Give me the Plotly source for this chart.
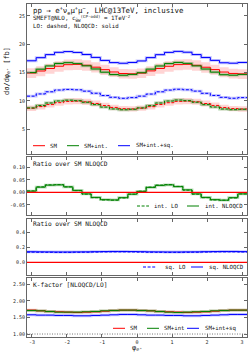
import numpy as np
import plotly.graph_objects as go

# ---------------- data ----------------
n_bins = 24
edges = np.linspace(-np.pi, np.pi, n_bins + 1)

sm_nlo = [14.92, 15.26, 15.70, 16.11, 16.38, 16.44, 16.28, 15.94, 15.50, 15.09, 14.82, 14.76,
          14.90, 15.28, 15.71, 16.10, 16.39, 16.45, 16.27, 15.93, 15.51, 15.08, 14.83, 14.75]
sm_int_nlo = [14.99, 15.58, 16.16, 16.59, 16.74, 16.57, 16.18, 15.62, 15.05, 14.64, 14.51, 14.66,
              14.96, 15.59, 16.15, 16.58, 16.77, 16.61, 16.17, 15.61, 15.06, 14.61, 14.52, 14.66]
sm_int_sq_nlo = [17.07, 17.62, 18.16, 18.56, 18.70, 18.54, 18.18, 17.66, 17.13, 16.75, 16.63, 16.77,
                 17.04, 17.63, 18.15, 18.55, 18.73, 18.58, 18.17, 17.65, 17.14, 16.72, 16.64, 16.77]
sm_lo = [8.69, 8.97, 9.33, 9.67, 9.89, 9.95, 9.81, 9.53, 9.17, 8.83, 8.61, 8.56,
         8.70, 8.96, 9.34, 9.66, 9.90, 9.94, 9.82, 9.52, 9.18, 8.82, 8.62, 8.55]
sm_int_lo = [8.74, 9.17, 9.61, 9.97, 10.11, 10.02, 9.74, 9.33, 8.89, 8.56, 8.42, 8.50,
             8.74, 9.15, 9.61, 9.96, 10.14, 10.03, 9.75, 9.32, 8.90, 8.55, 8.43, 8.50]
sm_int_sq_lo = [10.82, 11.21, 11.59, 11.90, 12.01, 11.94, 11.70, 11.33, 10.93, 10.62, 10.44, 10.56,
                10.82, 11.19, 11.59, 11.89, 12.04, 11.95, 11.71, 11.32, 10.94, 10.61, 10.45, 10.56]
sm_nlo_scale_unc = (0.06, 0.055)   # relative (down, up)
sm_lo_scale_unc = (0.055, 0.055)

ratio_int_lo = [0.006, 0.022, 0.030, 0.031, 0.022, 0.007, -0.007, -0.021, -0.030, -0.031, -0.022, -0.007,
                0.005, 0.021, 0.029, 0.031, 0.024, 0.009, -0.007, -0.021, -0.030, -0.031, -0.022, -0.006]
ratio_int_nlo = [0.005, 0.021, 0.029, 0.030, 0.022, 0.008, -0.006, -0.020, -0.029, -0.030, -0.021, -0.007,
                 0.004, 0.020, 0.028, 0.030, 0.023, 0.010, -0.006, -0.020, -0.029, -0.031, -0.021, -0.006]
ratio_sq_lo = [0.137, 0.136, 0.135, 0.134, 0.134, 0.135, 0.136, 0.138, 0.140, 0.141, 0.141, 0.140,
               0.138, 0.136, 0.135, 0.134, 0.134, 0.135, 0.136, 0.138, 0.140, 0.141, 0.141, 0.139]
ratio_sq_nlo = [0.142, 0.141, 0.140, 0.139, 0.139, 0.140, 0.141, 0.143, 0.145, 0.146, 0.146, 0.145,
                0.143, 0.141, 0.140, 0.139, 0.139, 0.140, 0.141, 0.143, 0.145, 0.146, 0.146, 0.144]

k_sm = [1.72, 1.70, 1.68, 1.67, 1.66, 1.65, 1.66, 1.67, 1.69, 1.71, 1.72, 1.72,
        1.71, 1.70, 1.68, 1.67, 1.66, 1.65, 1.66, 1.67, 1.69, 1.71, 1.72, 1.72]
k_sm_int = [1.71, 1.70, 1.68, 1.66, 1.66, 1.66, 1.67, 1.68, 1.70, 1.71, 1.72, 1.72,
            1.71, 1.70, 1.68, 1.66, 1.65, 1.66, 1.67, 1.68, 1.70, 1.71, 1.72, 1.72]
k_sm_int_sq = [1.58, 1.57, 1.57, 1.56, 1.56, 1.55, 1.55, 1.56, 1.57, 1.58, 1.59, 1.59,
               1.58, 1.57, 1.57, 1.56, 1.56, 1.55, 1.55, 1.56, 1.57, 1.58, 1.59, 1.59]
k_unity = 1.0

x_ticks = [-3, -2, -1, 0, 1, 2, 3]
main_yticks = [5, 10, 15, 20, 25]
ratio1_yticks = [-0.05, 0.00, 0.05, 0.10]
ratio2_yticks = [0.0, 0.2, 0.4]
k_yticks = [1.00, 1.50, 2.00, 2.50]

# ---------------- style ----------------
MONO = "DejaVu Sans Mono"
RED, GREEN, BLUE = "#ff0000", "#008000", "#0000ff"
FRAME = "#666666"
W, H = 252, 359
L, R, T, B = 27, 5, 4, 22
PW, PH = W - L - R, H - T - B


def px(x, y):
    return (x - L) / PW, (H - B - y) / PH


fig = go.Figure()


def step(vals, xa, ya, color, width, dash=None):
    fig.add_trace(go.Scatter(
        x=edges, y=list(vals) + [vals[-1]], mode="lines",
        line=dict(color=color, width=width, dash=dash, shape="hv"),
        xaxis=xa, yaxis=ya, showlegend=False, hoverinfo="skip"))


def band(vals, unc, xa, ya, fillcolor):
    lo = [v * (1 - unc[0]) for v in vals]
    hi = [v * (1 + unc[1]) for v in vals]
    fig.add_trace(go.Scatter(x=edges, y=lo + [lo[-1]], mode="lines",
                             line=dict(width=0, shape="hv"), xaxis=xa, yaxis=ya,
                             showlegend=False, hoverinfo="skip"))
    fig.add_trace(go.Scatter(x=edges, y=hi + [hi[-1]], mode="lines",
                             line=dict(width=0, shape="hv"), fill="tonexty",
                             fillcolor=fillcolor, xaxis=xa, yaxis=ya,
                             showlegend=False, hoverinfo="skip"))


DASH = "3px,1.6px"
LW = 1.0
HALO = 2.8
G_HALO = "rgba(0,128,0,0.28)"
B_HALO = "rgba(0,0,255,0.22)"
R_HALO = "rgba(255,0,0,0.22)"

# main panel
band(sm_lo, sm_lo_scale_unc, "x", "y", "rgba(255,0,0,0.17)")
band(sm_nlo, sm_nlo_scale_unc, "x", "y", "rgba(255,0,0,0.17)")
for vals, c in [(sm_int_lo, G_HALO), (sm_int_sq_lo, B_HALO),
                (sm_int_nlo, G_HALO), (sm_int_sq_nlo, B_HALO)]:
    step(vals, "x", "y", c, HALO)
step(sm_lo, "x", "y", RED, LW, DASH)
step(sm_int_lo, "x", "y", GREEN, LW, DASH)
step(sm_int_sq_lo, "x", "y", BLUE, LW, DASH)
step(sm_nlo, "x", "y", RED, LW)
step(sm_int_nlo, "x", "y", GREEN, LW)
step(sm_int_sq_nlo, "x", "y", BLUE, LW)

# ratio panel 1 (interference)
step(ratio_int_nlo, "x2", "y2", G_HALO, HALO)
step(ratio_int_lo, "x2", "y2", GREEN, LW, DASH)
step(ratio_int_nlo, "x2", "y2", GREEN, LW)

# ratio panel 2 (squared)
step(ratio_sq_nlo, "x3", "y3", B_HALO, HALO)
step(ratio_sq_lo, "x3", "y3", BLUE, LW, DASH)
step(ratio_sq_nlo, "x3", "y3", BLUE, LW)

# K-factor panel
for vals, c in [(k_sm, R_HALO), (k_sm_int, G_HALO), (k_sm_int_sq, B_HALO)]:
    step(vals, "x4", "y4", c, HALO)
step(k_sm, "x4", "y4", RED, LW)
step(k_sm_int, "x4", "y4", GREEN, LW)
step(k_sm_int_sq, "x4", "y4", BLUE, LW)

shapes = []
for ya in ["y2", "y3"]:
    shapes.append(dict(type="line", xref=ya.replace("y", "x") + " domain", yref=ya,
                       x0=0, x1=1, y0=0, y1=0, line=dict(color=RED, width=1.3)))
shapes.append(dict(type="line", xref="x4 domain", yref="y4", x0=0, x1=1,
                   y0=k_unity, y1=k_unity, line=dict(color="#777777", width=1, dash="1px,1.5px")))

annotations = []


def text(x, y, s, size, anchor="left", angle=0, color="#111111", family=MONO):
    xp, yp = px(x, y)
    annotations.append(dict(x=xp, y=yp, xref="paper", yref="paper", text=s,
                            showarrow=False, xanchor=anchor, yanchor="middle",
                            textangle=angle, font=dict(family=family, size=size, color=color)))


def legend_line(x0, x1, y, color, dash=None):
    a0, b0 = px(x0, y)
    a1, _ = px(x1, y)
    shapes.append(dict(type="line", xref="paper", yref="paper", x0=a0, x1=a1, y0=b0, y1=b0,
                       line=dict(color=color, width=LW, dash=dash)))


text(31, 10.5, "pp → e<sup>+</sup>ν<sub>e</sub>μ<sup>+</sup>μ<sup>−</sup>, LHC@13TeV, inclusive", 7.4)
text(31, 18.5, "SMEFT@NLO, c<sub>W̃W</sub><sup>(CP-odd)</sup> = 1TeV<sup>-2</sup>", 5.9)
text(31, 25.5, "LO: dashed, NLOQCD: solid", 5.7)

LEG = 5.7
PANEL = 6.2
# main legend
legend_line(33, 45, 145.7, RED); text(48, 145.7, "SM", LEG)
legend_line(67, 79, 145.7, GREEN); text(82, 145.7, "SM+int.", LEG)
legend_line(118, 130, 145.7, BLUE); text(134, 145.7, "SM+int.+sq.", LEG)

text(31, 163.5, "Ratio over SM NLOQCD", PANEL)
legend_line(137, 149, 206, GREEN, DASH); text(152, 206, "int. LO", LEG)
legend_line(187, 199, 206, GREEN); text(203, 206, "int. NLOQCD", LEG)

text(31, 223.5, "Ratio over SM NLOQCD", PANEL)
legend_line(143, 156, 267, BLUE, DASH); text(163, 267, "sq. LO", LEG)
legend_line(191, 203, 267, BLUE); text(207, 267, "sq. NLOQCD", LEG)

text(31, 284, "K-factor [NLOQCD/LO]", PANEL)
legend_line(113, 125, 328.3, RED); text(128, 328.3, "SM", LEG)
legend_line(147, 159, 328.3, GREEN); text(162, 328.3, "SM+int", LEG)
legend_line(187, 199, 328.3, BLUE); text(203, 328.3, "SM+int+sq", LEG)

# axis titles
text(7, 71, "dσ/dφ<sub>e⁺</sub> [fb]", 7, anchor="center", angle=-90)
text(137, 348, "φ<sub>e⁺</sub>", 7, anchor="center")

tickfont = dict(family=MONO, size=5, color="#222222")
common_x = dict(range=[-np.pi, np.pi], tickvals=x_ticks, ticks="inside", ticklen=3,
                tickwidth=0.8, tickcolor=FRAME, showline=True, linecolor=FRAME, linewidth=1,
                mirror="allticks", showgrid=False, zeroline=False, tickfont=tickfont,
                domain=[0, 1])
common_y = dict(ticks="inside", ticklen=3, tickwidth=0.8, tickcolor=FRAME, showline=True,
                linecolor=FRAME, linewidth=1, mirror="allticks", showgrid=False,
                zeroline=False, tickfont=tickfont)


def dom(ytop, ybot):
    return [(H - B - ybot) / PH, (H - B - ytop) / PH]


fig.update_layout(
    width=W, height=H, margin=dict(l=L, r=R, t=T, b=B),
    font=dict(family=MONO, size=6, color="#111111"),
    paper_bgcolor="white", plot_bgcolor="white", showlegend=False,
    xaxis=dict(common_x, anchor="y", showticklabels=False),
    xaxis2=dict(common_x, anchor="y2", matches="x", showticklabels=False),
    xaxis3=dict(common_x, anchor="y3", matches="x", showticklabels=False),
    xaxis4=dict(common_x, anchor="y4", matches="x", showticklabels=True,
                ticktext=[str(v) for v in x_ticks]),
    yaxis=dict(common_y, domain=dom(4, 154), range=[0.6, 27.1], tickvals=main_yticks,
               ticktext=[str(v) for v in main_yticks]),
    yaxis2=dict(common_y, domain=dom(157, 215), range=[-0.09, 0.141], tickvals=ratio1_yticks,
                ticktext=[f"{v:.2f}" for v in ratio1_yticks]),
    yaxis3=dict(common_y, domain=dom(219, 275), range=[-0.172, 0.585], tickvals=ratio2_yticks,
                ticktext=[f"{v:.1f}" for v in ratio2_yticks]),
    yaxis4=dict(common_y, domain=dom(278, 337), range=[0.91, 2.69], tickvals=k_yticks,
                ticktext=[f"{v:.2f}" for v in k_yticks]),
    shapes=shapes, annotations=annotations,
)

fig.write_html("out.html", config={"displayModeBar": False},
               post_script="document.body.style.margin='0';document.body.style.padding='0';")
